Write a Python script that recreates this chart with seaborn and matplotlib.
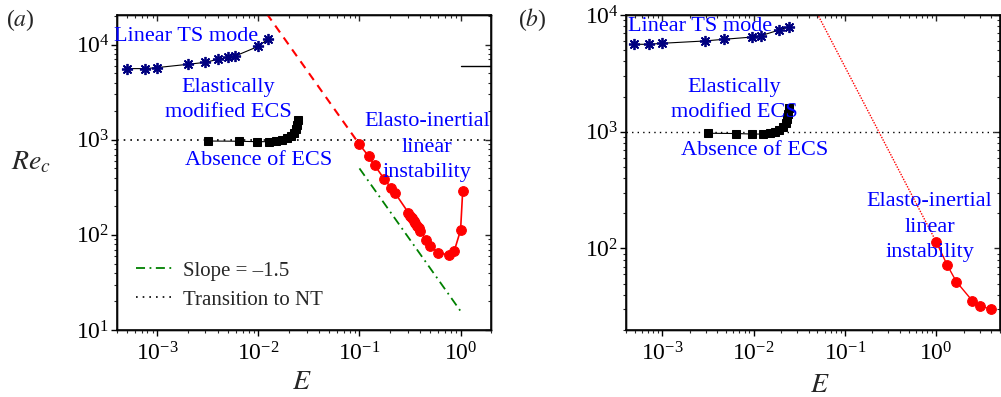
import numpy as np
import pandas as pd
import matplotlib
matplotlib.use("Agg")
import matplotlib.pyplot as plt
import seaborn as sns
from matplotlib.ticker import LogLocator, NullFormatter
from matplotlib.lines import Line2D

sns.set_theme(style="ticks")
plt.rcParams["font.family"] = ["Liberation Serif", "DejaVu Serif"]
plt.rcParams["mathtext.fontset"] = "stix"
plt.rcParams["axes.linewidth"] = 1.0

# ---- panel (a) data ----
a_ts_E = [5.0e-4, 7.6e-4, 1.0e-3, 2.0e-3, 3.0e-3, 4.0e-3, 5.0e-3, 5.9e-3, 1.0e-2, 1.26e-2]
a_ts_Re = [5600, 5600, 5740, 6210, 6520, 7020, 7360, 7590, 9600, 11560]

ecs_E = [3.2e-3, 6.4e-3, 9.6e-3, 1.28e-2, 1.5e-2, 1.7e-2, 1.9e-2, 2.1e-2, 2.25e-2, 2.35e-2, 2.4e-2, 2.45e-2]
ecs_Re = [970, 965, 955, 955, 975, 1000, 1040, 1100, 1180, 1290, 1420, 1600]

a_ei_E = [0.100, 0.123, 0.141, 0.176, 0.205, 0.226, 0.305, 0.318, 0.330, 0.343, 0.356,
          0.370, 0.384, 0.399, 0.457, 0.501, 0.605, 0.760, 0.867, 1.00, 1.05]
a_ei_Re = [893, 673, 541, 386, 313, 273, 171, 158, 149, 141, 132,
           124, 117, 110, 88.5, 77, 65, 61.5, 68, 112, 291]

# power-law guides (Re ~ E^-1.5)
a_fit_E = [0.01, 0.1]
a_fit_Re = [28200, 893]
slope_E = [0.1, 1.0]
slope_Re = [500, 15.8]

# short reference segment near the top right
seg_E = [1.0, 2.0]
seg_Re = [5900, 5900]

# ---- panel (b) data ----
b_ts_E = [4.9e-4, 7.2e-4, 9.8e-4, 2.9e-3, 4.7e-3, 9.6e-3, 1.2e-2, 1.9e-2, 2.45e-2]
b_ts_Re = [5610, 5610, 5720, 5990, 6190, 6470, 6650, 7430, 7940]

b_ei_E = [1.0, 1.32, 1.66, 2.48, 2.99, 4.0]
b_ei_Re = [114, 72, 52, 35.7, 32.3, 30.1]

b_fit_E = [0.01, 1.0]
b_fit_Re = [114000, 114]

Re_NT = 1000

NAVY = "#000080"
TXT = "#0000ff"
RED = "#ff0000"
GREEN = "#008000"
FS = 16
LS = 1.45

fig = plt.figure(figsize=(10.01, 3.97), dpi=100)
axA = fig.add_axes([117 / 1001, 1 - 330 / 397, 374 / 1001, 315 / 397])
axB = fig.add_axes([626 / 1001, 1 - 330 / 397, 374 / 1001, 315 / 397])


def series(ax, E, Re, **kw):
    df = pd.DataFrame({"E": E, "Re": Re})
    sns.lineplot(data=df, x="E", y="Re", ax=ax, sort=False, estimator=None,
                 legend=False, **kw)


def style_axes(ax, xlim, ylim):
    ax.set_xscale("log")
    ax.set_yscale("log")
    ax.set_xlim(*xlim)
    ax.set_ylim(*ylim)
    for a in (ax.xaxis, ax.yaxis):
        a.set_major_locator(LogLocator(base=10, numticks=12))
        a.set_minor_locator(LogLocator(base=10, subs=np.arange(2, 10) * 1.0, numticks=30))
        a.set_minor_formatter(NullFormatter())
    ax.tick_params(which="major", direction="out", length=4.5, width=1.0,
                   labelsize=17, colors="black")
    ax.tick_params(axis="y", which="major", pad=1)
    ax.tick_params(axis="x", which="major", pad=4)
    ax.tick_params(which="minor", direction="out", length=2.5, width=0.8)
    ax.set_xlabel("")
    ax.set_ylabel("")
    for s in ax.spines.values():
        s.set_color("black")
        s.set_linewidth(1.1)
        s.set_visible(True)
    # inward ticks on the top and right edges
    tx = ax.twiny()
    ty = ax.twinx()
    tx.set_xscale("log")
    ty.set_yscale("log")
    tx.set_xlim(*xlim)
    ty.set_ylim(*ylim)
    for t, a in ((tx, tx.xaxis), (ty, ty.yaxis)):
        a.set_major_locator(LogLocator(base=10, numticks=12))
        a.set_minor_locator(LogLocator(base=10, subs=np.arange(2, 10) * 1.0, numticks=30))
        a.set_major_formatter(NullFormatter())
        a.set_minor_formatter(NullFormatter())
        t.tick_params(which="major", direction="in", length=4.5, width=1.0)
        t.tick_params(which="minor", direction="in", length=2.5, width=0.8)
    ty.yaxis.set_ticks_position("right")
    tx.xaxis.set_ticks_position("top")
    ty.xaxis.set_visible(False)
    tx.yaxis.set_visible(False)
    ax.set_zorder(tx.get_zorder() + 2)
    ax.patch.set_visible(False)


# ---------------- panel (a) ----------------
axA.axhline(Re_NT, color="black", linestyle=(0, (1, 3)), linewidth=1.2, zorder=1)
series(axA, a_fit_E, a_fit_Re, color=RED, linestyle=(0, (4, 3)), linewidth=1.5)
series(axA, slope_E, slope_Re, color=GREEN, linestyle=(0, (5, 2.5, 1, 2.5)), linewidth=1.3)
series(axA, seg_E, seg_Re, color="black", linewidth=1.0)
series(axA, a_ts_E, a_ts_Re, color="black", linewidth=0.8, marker=(8, 2, 0),
       markersize=8, markeredgecolor=NAVY, markerfacecolor=NAVY, markeredgewidth=1.3)
series(axA, ecs_E, ecs_Re, color="black", linewidth=0.8, marker="s",
       markersize=5.5, markeredgecolor="black", markerfacecolor="black")
series(axA, a_ei_E, a_ei_Re, color=RED, linewidth=1.2, marker="o",
       markersize=7, markeredgecolor=RED, markerfacecolor=RED)
style_axes(axA, (4e-4, 2.0), (10, 2.05e4))

axA.text(1.92e-3, 1.22e4, "Linear TS mode", color=TXT, fontsize=FS, ha="center", va="center")
axA.text(5.0e-3, 2600, "Elastically\nmodified ECS", color=TXT, fontsize=FS,
         ha="center", va="center", linespacing=LS)
axA.text(1.0e-2, 611, "Absence of ECS", color=TXT, fontsize=FS, ha="center", va="center")
axA.text(0.468, 836, "Elasto-inertial\nlinear\ninstability", color=TXT, fontsize=FS,
         ha="center", va="center", linespacing=LS)

handles = [
    Line2D([], [], color=GREEN, linestyle=(0, (5, 2.5, 1, 2.5)), linewidth=1.3),
    Line2D([], [], color="black", linestyle=(0, (1, 3)), linewidth=1.2),
]
axA.legend(handles, ["Slope = \u20131.5", "Transition to NT"], loc="lower left",
           bbox_to_anchor=(0.0, 0.005), frameon=False, fontsize=15, handlelength=1.9,
           handletextpad=0.35, labelspacing=0.45, borderaxespad=0.5)

axA.text(0.495, -0.168, "$E$", transform=axA.transAxes, fontsize=20, ha="center", va="center")
axA.text(-0.23, 0.53, "$Re_c$", transform=axA.transAxes, fontsize=20, ha="center", va="center")

# ---------------- panel (b) ----------------
axB.axhline(Re_NT, color="black", linestyle=(0, (1, 3)), linewidth=1.0, zorder=1)
series(axB, b_fit_E, b_fit_Re, color=RED, linestyle=(0, (1, 1)), linewidth=1.0)
series(axB, b_ts_E, b_ts_Re, color="black", linewidth=0.8, marker=(8, 2, 0),
       markersize=8, markeredgecolor=NAVY, markerfacecolor=NAVY, markeredgewidth=1.3)
series(axB, ecs_E, ecs_Re, color="black", linewidth=0.8, marker="s",
       markersize=5.5, markeredgecolor="black", markerfacecolor="black")
series(axB, b_ei_E, b_ei_Re, color=RED, linewidth=1.0, marker="o",
       markersize=7, markeredgecolor=RED, markerfacecolor=RED)
style_axes(axB, (4e-4, 5.0), (20, 1e4))

axB.text(2.56e-3, 7900, "Linear TS mode", color=TXT, fontsize=FS, ha="center", va="center")
axB.text(6.2e-3, 1870, "Elastically\nmodified ECS", color=TXT, fontsize=FS,
         ha="center", va="center", linespacing=LS)
axB.text(1.02e-2, 697, "Absence of ECS", color=TXT, fontsize=FS, ha="center", va="center")
axB.text(0.847, 152, "Elasto-inertial\nlinear\ninstability", color=TXT, fontsize=FS,
         ha="center", va="center", linespacing=LS)

axB.text(0.519, -0.175, "$E$", transform=axB.transAxes, fontsize=20, ha="center", va="center")

fig.text(20 / 1001, 1 - 20 / 397, "($a$)", fontsize=17, ha="center", va="center")
fig.text(532 / 1001, 1 - 20 / 397, "($b$)", fontsize=17, ha="center", va="center")

fig.savefig("out.png", dpi=100)
